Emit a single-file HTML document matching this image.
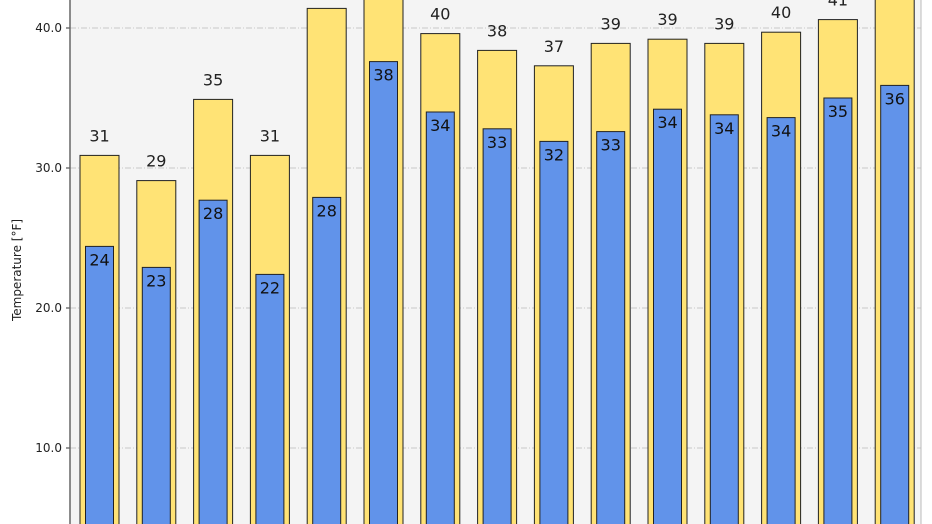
<!DOCTYPE html>
<html><head><meta charset="utf-8"><style>
body{margin:0;background:#fff;}
svg{display:block;font-family:"DejaVu Sans","Liberation Sans",sans-serif;}
</style></head><body>
<svg id="chart" width="932" height="524"></svg>
<script>
const categories=["1","2","3","4","5","6","7","8","9","10","11","12","13","14","15"];
const highValues=[30.9,29.1,34.9,30.9,41.4,43.5,39.6,38.4,37.3,38.9,39.2,38.9,39.7,40.6,44.0];
const lowValues=[24.4,22.9,27.7,22.4,27.9,37.6,34.0,32.8,31.9,32.6,34.2,33.8,33.6,35.0,35.9];
const yTicks=[10,20,30,40];
const NS="http://www.w3.org/2000/svg";
const svgEl=document.getElementById('chart');
const plotLeft=70,plotRight=921,plotTop=-20,plotBottom=524;
const yScale=v=>588-14*v;
const xScale=i=>99.5+i*56.8;
function mk(t,a){const e=document.createElementNS(NS,t);for(const k in a)e.setAttribute(k,a[k]);svgEl.appendChild(e);return e;}
const bg=mk('rect',{x:plotLeft,y:plotTop,width:plotRight-plotLeft,height:plotBottom-plotTop,fill:'#f4f4f4'});


yTicks.forEach(t=>{
  const g=mk('line',{x1:plotLeft,x2:plotRight,y1:yScale(t),y2:yScale(t),stroke:'#c8c8c8','stroke-dasharray':'6 2 1 2'});
  
  
  const tk=mk('line',{x1:plotLeft-4,x2:plotLeft,y1:yScale(t),y2:yScale(t),stroke:'#333'});
  
  
  const tx=mk('text',{x:plotLeft-8,y:yScale(t)+4,'text-anchor':'end','font-size':12,fill:'#222'});
  tx.textContent=t.toFixed(1);
  
  
});
const ax=mk('line',{x1:plotLeft,x2:plotLeft,y1:plotTop,y2:plotBottom,stroke:'#666','stroke-width':1.5});


const rb=mk('line',{x1:plotRight,x2:plotRight,y1:plotTop,y2:plotBottom,stroke:'#bbb'});


categories.forEach((c,i)=>{
  const h=highValues[i],l=lowValues[i],cx=xScale(i);
  const r1=mk('rect',{x:cx-19.5,y:yScale(h),width:39,height:600,fill:'#ffe375',stroke:'#222','stroke-width':1});
  
  
  const t1=mk('text',{x:cx,y:yScale(h)-14,'text-anchor':'middle','font-size':16,fill:'#222'});
  t1.textContent=Math.round(h);
  
  
  const r2=mk('rect',{x:cx-14,y:yScale(l),width:28,height:600,fill:'#6193ea',stroke:'#222','stroke-width':1});
  
  
  const t2=mk('text',{x:cx,y:yScale(l)+19,'text-anchor':'middle','font-size':16,fill:'#111'});
  t2.textContent=Math.round(l);
  
  
});
const yt=mk('text',{x:0,y:0,transform:'translate(21,270) rotate(-90)','text-anchor':'middle','font-size':12,fill:'#222'});
yt.textContent='Temperature [°F]';


</script>
</body></html>
